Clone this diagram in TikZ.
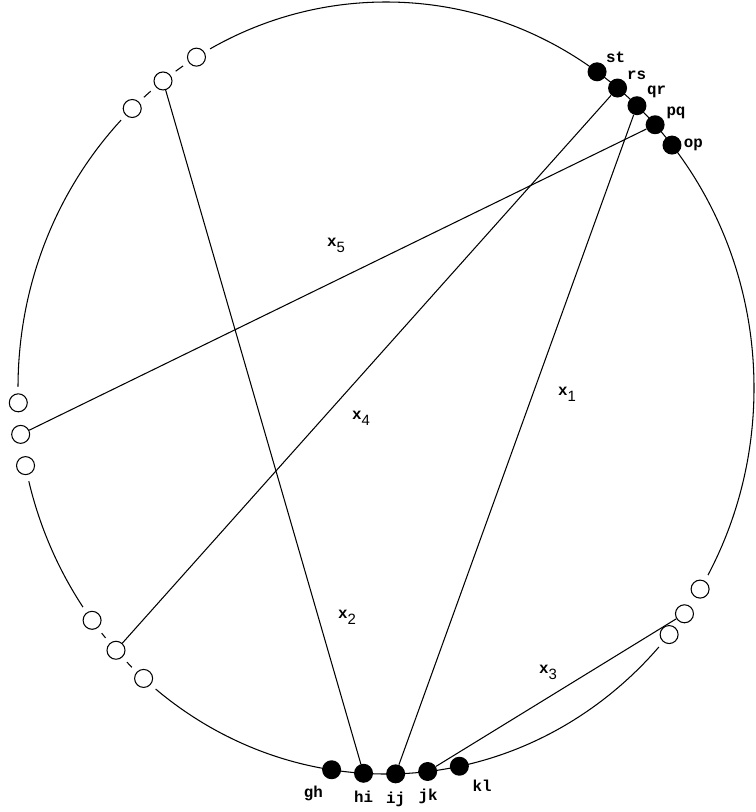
\documentclass[tikz,border=0pt]{standalone}
\usepackage{fontspec}
\setmonofont{Liberation Mono}
\setsansfont{Liberation Sans}
\usepackage{tikz}
\usetikzlibrary{positioning}
\tikzstyle{wire} = [line width=0.6pt]
\tikzstyle{dot} = [circle, fill=black, inner sep=0pt, minimum size=0.38cm]
\tikzstyle{hole} = [circle, draw=black, line width=0.6pt, fill=white, inner sep=0pt, minimum size=0.36cm, preaction={draw=white, line width=0.28cm}]
\tikzstyle{lbl} = [font=\ttfamily\bfseries\fontsize{9}{10}\selectfont, inner sep=1pt]
\newcommand{\xsub}[1]{x\raisebox{-3.5pt}{\normalfont\sffamily\fontsize{8.5}{9}\selectfont #1}}

\begin{document}
\begin{tikzpicture}[x=0.02cm, y=-0.02cm]
    \useasboundingbox (0,0) rectangle (756,812);
    \coordinate (o) at (386,388);

    % Outer curve
    \draw[wire] (o) ellipse [x radius=368, y radius=386];

    % Open points
    \foreach \n/\a in {t1/-121, t2/-127.3, t3/-133.6, l1/177.8, l2/173.1, l3/168.4, b1/143, b2/137.2, b3/131.2, r1/31.4, r2/35.8, r3/39.7} {
        \node[hole] (\n) at ([shift={(\a:368 and 386)}]o) {};
    }

    % Filled points, top right
    \foreach \n/\a/\p in {st/-55/45, rs/-51/40, qr/-47/35, pq/-43/20, op/-39/0} {
        \node[dot, label={[lbl]\p:\n}] (\n) at ([shift={(\a:368 and 386)}]o) {};
    }

    % Filled points, bottom
    \foreach \n/\a/\p in {gh/98.5/-115, hi/93.5/-90, ij/88.5/-90, jk/83.5/-88, kl/78.5/-45} {
        \node[dot, label={[lbl, label distance=1.2mm]\p:\n}] (\n) at ([shift={(\a:368 and 386)}]o) {};
    }

    % Chords
    \draw[wire] (qr) -- (ij);
    \draw[wire] (t2) -- (hi);
    \draw[wire] (jk) -- (r2);
    \draw[wire] (b2) -- (rs);
    \draw[wire] (l2) -- (pq);

    % Labels
    \node[lbl] (x1) at (567,394) {\xsub{1}};
    \node[lbl] (x2) at (347,617) {\xsub{2}};
    \node[lbl] (x3) at (548,672) {\xsub{3}};
    \node[lbl] (x4) at (361,418) {\xsub{4}};
    \node[lbl] (x5) at (336,245) {\xsub{5}};
\end{tikzpicture}
\end{document}
